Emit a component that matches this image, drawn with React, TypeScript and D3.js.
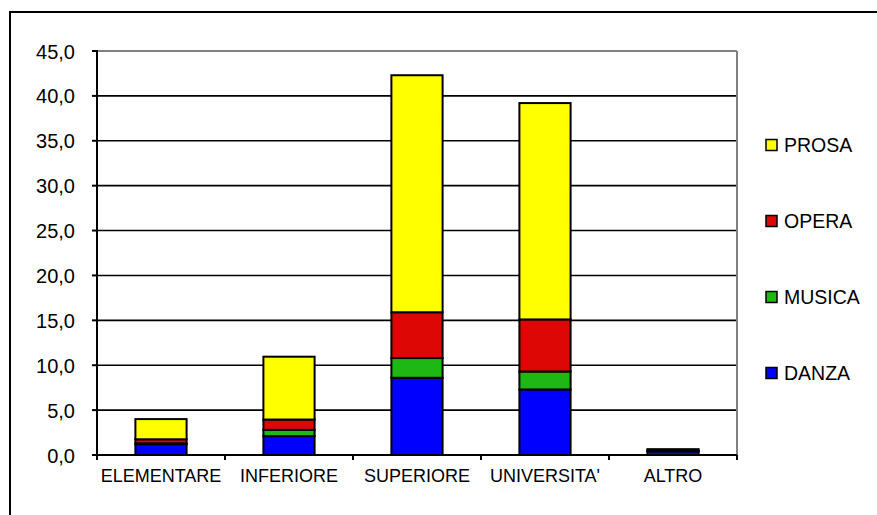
import React from "react";
import * as d3 from "d3";

const categories = ["ELEMENTARE", "INFERIORE", "SUPERIORE", "UNIVERSITA'", "ALTRO"];
const seriesNames = ["DANZA", "MUSICA", "OPERA", "PROSA"];
const danza = [1.2, 2.1, 8.6, 7.3, 0.4];
const musica = [0.1, 0.7, 2.2, 2.0, 0.05];
const opera = [0.45, 1.15, 5.1, 5.8, 0.05];
const prosa = [2.25, 7.0, 26.4, 24.1, 0.15];
const yTicks = [0, 5, 10, 15, 20, 25, 30, 35, 40, 45];
const colors = ["#0000FF", "#1FB714", "#DD0806", "#FFFF00"];

export default function App() {
  const W = 877, H = 515;
  const left = 97, right = 737, top = 51, bottom = 455;
  const x = d3.scaleBand<string>().domain(categories).range([left, right]).paddingInner(0.6).paddingOuter(0.3);
  const xb = d3.scaleBand<string>().domain(categories).range([left, right]);
  const y = d3.scaleLinear().domain([0, 45]).range([bottom, top]);
  const rows = categories.map((c, i) => ({ cat: c, DANZA: danza[i], MUSICA: musica[i], OPERA: opera[i], PROSA: prosa[i] }));
  const stacked = d3.stack<any>().keys(seriesNames)(rows);
  const fmt = (v: number) => v.toFixed(1).replace(".", ",");
  const font = "'Liberation Sans', Arial, sans-serif";
  const legendOrder = [3, 2, 1, 0];
  const legendY = d3.scalePoint<number>().domain(legendOrder).range([145, 373]);

  return (
    <svg width={W} height={H} style={{ position: "absolute", left: 0, top: 0, background: "#fff" }} fontFamily={font}>
      <rect x={0} y={0} width={W} height={H} fill="#fff" />
      <rect x={10} y={12} width={890} height={540} fill="none" stroke="#000" strokeWidth={2} />
      {/* gridlines */}
      {yTicks.filter(t => t > 0 && t < 45).map(t => (
        <line key={t} x1={left} x2={right} y1={y(t)} y2={y(t)} stroke="#000" strokeWidth={1.6} />
      ))}
      <line x1={left} x2={right} y1={y(45)} y2={y(45)} stroke="#808080" strokeWidth={2} />
      <line x1={right} x2={right} y1={top} y2={bottom} stroke="#808080" strokeWidth={2} />
      {/* bars */}
      {stacked.map((s, si) => (
        <g key={s.key}>
          {s.map((d, i) => (
            <rect key={i} x={x(categories[i])} width={x.bandwidth()} y={y(d[1])} height={y(d[0]) - y(d[1])}
              fill={colors[si]} stroke="#000" strokeWidth={2} />
          ))}
        </g>
      ))}
      {/* y axis */}
      <line x1={left} x2={left} y1={top - 1} y2={bottom + 1} stroke="#000" strokeWidth={2} />
      {yTicks.map(t => (
        <g key={t}>
          <line x1={left - 5} x2={left} y1={y(t)} y2={y(t)} stroke="#000" strokeWidth={2} />
          <text x={75} y={y(t) + 7.5} textAnchor="end" fontSize={20} fill="#000">{fmt(t)}</text>
        </g>
      ))}
      {/* x axis */}
      <line x1={left} x2={right} y1={bottom} y2={bottom} stroke="#000" strokeWidth={2} />
      {categories.concat([""]).map((c, i) => {
        const xx = i < categories.length ? (xb(c) as number) : right;
        return <line key={i} x1={xx} x2={xx} y1={bottom} y2={bottom + 5} stroke="#000" strokeWidth={2} />;
      })}
      {categories.map(c => (
        <text key={c} x={(xb(c) as number) + xb.bandwidth() / 2} y={482} textAnchor="middle" fontSize={18} fill="#000">{c}</text>
      ))}
      {/* legend */}
      {legendOrder.map(si => (
        <g key={si}>
          <rect x={766} y={legendY(si)! - 5.5} width={11} height={11} fill={colors[si]} stroke="#000" strokeWidth={1.5} />
          <text x={784} y={legendY(si)! + 7} fontSize={19.5} fill="#000">{seriesNames[si]}</text>
        </g>
      ))}
    </svg>
  );
}
